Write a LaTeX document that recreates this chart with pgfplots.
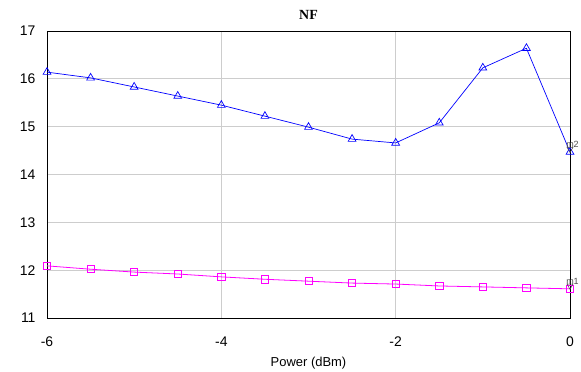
\documentclass[border=0pt]{standalone}
\usepackage{pgfplots}
\pgfplotsset{compat=1.18}
\usepackage{fontspec}
\setmainfont{Liberation Sans}
\newfontfamily\titlefont{Liberation Serif}
\definecolor{gridgray}{RGB}{205,205,205}
\definecolor{mag}{RGB}{255,0,255}
\begin{document}
\begin{tikzpicture}[x=1bp,y=1bp]
\useasboundingbox (0,0) rectangle (581,371);
\begin{axis}[
  at={(47bp,53bp)}, anchor=south west,
  scale only axis,
  width=523bp, height=287bp,
  xmin=-6, xmax=0, ymin=11, ymax=17,
  xtick={-6,-4,-2,0}, ytick={11,12,13,14,15,16,17},
  grid=major,
  major grid style={gridgray, line width=1pt},
  tick style={draw=none},
  axis line style={black, line width=0.9pt},
  /pgf/number format/assume math mode=true,
  ticklabel style={font=\fontsize{14}{16}\selectfont},
  xticklabel style={yshift=-15bp},
  yticklabel style={xshift=-8bp},
  xlabel={Power (dBm)},
  xlabel style={font=\fontsize{13}{15}\selectfont, yshift=-4bp},
  title={\titlefont\bfseries NF},
  title style={font=\fontsize{14}{16}\selectfont, yshift=2bp},
  clip=false,
]
\addplot[blue, line width=0.7pt, mark=triangle, mark size=4.5bp, mark options={solid, line width=0.7pt}] coordinates {
(-6,16.14) (-5.5,16.02) (-5,15.83) (-4.5,15.64) (-4,15.45) (-3.5,15.22) (-3,14.99) (-2.5,14.74) (-2,14.66) (-1.5,15.08) (-1,16.23) (-0.5,16.64) (0,14.47)
};
\addplot[mag, line width=0.8pt, mark=square, mark size=3.6bp, mark options={solid, line width=0.7pt}] coordinates {
(-6,12.09) (-5.5,12.02) (-5,11.96) (-4.5,11.92) (-4,11.86) (-3.5,11.81) (-3,11.77) (-2.5,11.73) (-2,11.71) (-1.5,11.67) (-1,11.65) (-0.5,11.63) (0,11.61)
};
\addplot[only marks, mark=triangle, mark size=3.5bp, mark options={rotate=180, draw=black!70, line width=0.5pt, yshift=-3bp},
  nodes near coords={\fontsize{9}{10}\selectfont\color{black!70}\pgfplotspointmeta},
  point meta=explicit symbolic,
  every node near coord/.style={anchor=south west, inner sep=0pt, xshift=-4bp, yshift=1bp}] coordinates {
(0,14.47) [m2]
(0,11.61) [m1]
};
\end{axis}
\end{tikzpicture}
\end{document}
